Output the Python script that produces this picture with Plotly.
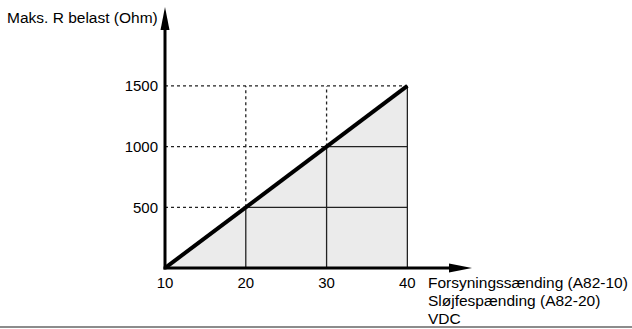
import plotly.graph_objects as go

# Data
supply_v = [10, 20, 30, 40]          # VDC
max_load = [0, 500, 1000, 1500]      # Ohm
x_ticks = [10, 20, 30, 40]
y_ticks = [500, 1000, 1500]
y_title = "Maks. R belast (Ohm)"
x_title_lines = ["Forsyningssænding (A82-10)", "Sløjfespænding (A82-20)", "VDC"]

FONT = "Liberation Sans, Arial, sans-serif"
W, H = 632, 329
ML, MR, MT, MB = 165, 160, 7, 61
X0, X1 = 10, 48
Y0, Y1 = 0, 2150

pw = W - ML - MR
ph = H - MT - MB


def fx(v):
    return (v - X0) / (X1 - X0)


def fy(v):
    return (v - Y0) / (Y1 - Y0)


fig = go.Figure()

# shaded area under line
fig.add_trace(go.Scatter(x=supply_v, y=max_load, mode="lines", fill="tozeroy",
                         fillcolor="#ebebeb", line=dict(width=0), hoverinfo="skip",
                         showlegend=False))

GRID = dict(color="#222", width=1.3)
DOT = dict(color="#222", width=1.3, dash="3px,3px")
for xv, yv in zip(supply_v[1:], max_load[1:]):
    fig.add_trace(go.Scatter(x=[xv, xv], y=[0, yv], mode="lines", line=GRID,
                             showlegend=False, hoverinfo="skip"))
    if yv < max_load[-1]:
        fig.add_trace(go.Scatter(x=[xv, xv], y=[yv, max_load[-1]], mode="lines", line=DOT,
                                 showlegend=False, hoverinfo="skip"))
    fig.add_trace(go.Scatter(x=[supply_v[0], xv], y=[yv, yv], mode="lines", line=DOT,
                             showlegend=False, hoverinfo="skip"))
    if xv < supply_v[-1]:
        fig.add_trace(go.Scatter(x=[xv, supply_v[-1]], y=[yv, yv], mode="lines", line=GRID,
                                 showlegend=False, hoverinfo="skip"))

# main thick line
fig.add_trace(go.Scatter(x=supply_v, y=max_load, mode="lines",
                         line=dict(color="#000", width=4), showlegend=False, hoverinfo="skip"))

# axis arrows in paper coordinates (not clipped), sizes in pixels
head_len, head_half = 23, 4.5
ax0, ay0 = fx(X0), fy(Y0)
ya_tip = 1.0
ya_base = ya_tip - head_len / ph
ya_hw = head_half / pw
xa_tip = 1.0
xa_base = xa_tip - head_len / pw
xa_hh = head_half / ph

shapes = [
    dict(type="line", xref="paper", yref="paper", x0=ax0 - 1.5 / pw, x1=xa_base + 2 / pw,
         y0=ay0, y1=ay0, line=dict(color="#000", width=3)),
    dict(type="line", xref="paper", yref="paper", x0=ax0, x1=ax0, y0=ay0 - 1.5 / ph,
         y1=ya_base + 2 / ph, line=dict(color="#000", width=3)),
    dict(type="path", xref="paper", yref="paper",
         path=f"M {ax0},{ya_tip} L {ax0 - ya_hw},{ya_base} L {ax0 + ya_hw},{ya_base} Z",
         fillcolor="#000", line=dict(width=0)),
    dict(type="path", xref="paper", yref="paper",
         path=f"M {xa_tip},{ay0} L {xa_base},{ay0 - xa_hh} L {xa_base},{ay0 + xa_hh} Z",
         fillcolor="#000", line=dict(width=0)),
    # bottom separator line
    dict(type="line", xref="paper", yref="paper", x0=-ML / pw, x1=(W - ML) / pw,
         y0=-(327 - (H - MB)) / ph, y1=-(327 - (H - MB)) / ph,
         line=dict(color="#666", width=1.5)),
]

annotations = [
    dict(text=y_title, xref="paper", yref="paper", x=(5 - ML) / pw, y=((H - MB) - 17) / ph,
         xanchor="left", yanchor="middle", showarrow=False,
         font=dict(family=FONT, size=15.5, color="#000")),
]
for i, line in enumerate(x_title_lines):
    cy = 282 + 18 * i
    annotations.append(dict(text=line, xref="paper", yref="paper",
                            x=(426 - ML) / pw, y=((H - MB) - cy) / ph,
                            xanchor="left", yanchor="middle", showarrow=False,
                            font=dict(family=FONT, size=15.5, color="#000")))

fig.update_layout(
    width=W, height=H,
    margin=dict(l=ML, r=MR, t=MT, b=MB),
    paper_bgcolor="white", plot_bgcolor="white",
    shapes=shapes, annotations=annotations,
    xaxis=dict(range=[X0, X1], showgrid=False, zeroline=False, showline=False,
               tickvals=x_ticks, ticktext=[str(v) for v in x_ticks], ticks="",
               ticklabelstandoff=4,
               tickfont=dict(family=FONT, size=15, color="#000"), fixedrange=True),
    yaxis=dict(range=[Y0, Y1], showgrid=False, zeroline=False, showline=False,
               tickvals=y_ticks, ticktext=[str(v) for v in y_ticks], ticks="",
               ticklabelstandoff=6,
               tickfont=dict(family=FONT, size=15, color="#000"), fixedrange=True),
    showlegend=False,
)

fig.write_html("out.html", config={"displayModeBar": False},
               post_script="document.body.style.margin='0';document.body.style.overflow='hidden';")
